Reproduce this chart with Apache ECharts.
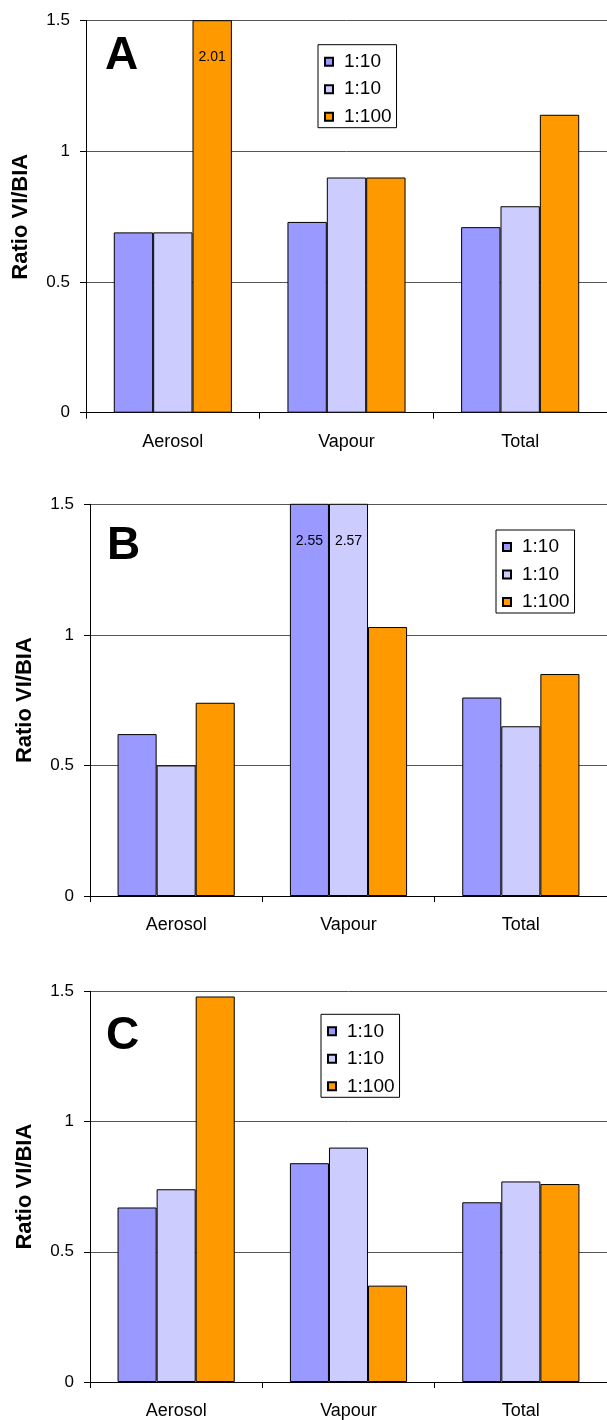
<!DOCTYPE html>
<html>
<head>
<meta charset="utf-8">
<script src="https://cdn.jsdelivr.net/npm/echarts@6/dist/echarts.min.js"></script>
<style>
  html, body { margin: 0; padding: 0; background: #fff; }
  #chart { width: 607px; height: 1420px; }
</style>
</head>
<body>
<div id="chart"></div>
<script>
// data
const categories = ['Aerosol', 'Vapour', 'Total']
const seriesLabels = ['1:10', '1:10', '1:100']
const yTicks = [0, 0.5, 1, 1.5]

const a1 = [0.69, 0.73, 0.71]
const a2 = [0.69, 0.90, 0.79]
const a3 = [2.01, 0.90, 1.14]

const b1 = [0.62, 2.55, 0.76]
const b2 = [0.50, 2.57, 0.65]
const b3 = [0.74, 1.03, 0.85]

const c1 = [0.67, 0.84, 0.69]
const c2 = [0.74, 0.90, 0.77]
const c3 = [1.48, 0.37, 0.76]

const colors = ['#9999FF', '#CCCCFF', '#FF9900']
const font = "'Liberation Sans', Arial, sans-serif"

// panel layout (pixels)
const panels = [
  { letter: 'A', data: [a1, a2, a3], left: 86, top: 20.7, height: 392, legend: [318, 44.7], letterPos: [105, 56.5] },
  { letter: 'B', data: [b1, b2, b3], left: 90, top: 504.3, height: 391.7, legend: [496, 530], letterPos: [107, 546] },
  { letter: 'C', data: [c1, c2, c3], left: 90, top: 991.3, height: 390.7, legend: [321, 1014.3], letterPos: [106, 1036] }
]

const yMin = yTicks[0]
const yMax = yTicks[yTicks.length - 1]
const yStep = yTicks[1] - yTicks[0]

function getOption () {
  let grid = []
  let xAxis = []
  let yAxis = []
  let series = []
  let legend = []
  let graphic = []

  panels.forEach(function (p, i) {
    grid.push({ left: p.left, top: p.top, height: p.height, width: 529 })
    xAxis.push({
      type: 'category',
      gridIndex: i,
      data: categories,
      axisLine: { lineStyle: { color: '#000', width: 1 } },
      axisTick: { show: true, length: 6, lineStyle: { color: '#000' } },
      axisLabel: { color: '#000', fontSize: 18, fontFamily: font, margin: 20 }
    })
    yAxis.push({
      type: 'value',
      gridIndex: i,
      min: yMin,
      max: yMax,
      interval: yStep,
      name: 'Ratio VI/BIA',
      nameLocation: 'middle',
      nameGap: 54,
      nameTextStyle: { color: '#000', fontSize: 22, fontWeight: 'bold', fontFamily: font },
      axisLine: { show: true, lineStyle: { color: '#000', width: 1 } },
      axisTick: { show: true, length: 6, lineStyle: { color: '#000' } },
      axisLabel: { color: '#000', fontSize: 17, fontFamily: font, margin: 16 },
      splitLine: { show: true, lineStyle: { color: '#555', width: 1 } }
    })
    p.data.forEach(function (vals, k) {
      series.push({
        name: 's' + k,
        type: 'bar',
        xAxisIndex: i,
        yAxisIndex: i,
        data: vals,
        barGap: '0%',
        barCategoryGap: '32%',
        clip: true,
        itemStyle: { color: colors[k], borderColor: '#000', borderWidth: 1 },
        label: {
          show: true,
          position: 'insideTop',
          distance: 30,
          color: '#000',
          fontSize: 14,
          fontFamily: font,
          formatter: function (d) { return d.value > yMax ? d.value.toFixed(2) : '' }
        },
        emphasis: { disabled: true }
      })
    })
    legend.push({
      orient: 'vertical',
      left: p.legend[0],
      top: p.legend[1],
      data: ['s0', 's1', 's2'],
      icon: 'rect',
      itemWidth: 8,
      itemHeight: 8,
      itemGap: 7.5,
      padding: [7, 5, 1, 6],
      borderColor: '#000',
      borderWidth: 1,
      backgroundColor: '#fff',
      selectedMode: false,
      formatter: function (name) { return seriesLabels[Number(name.slice(1))] },
      textStyle: { color: '#000', fontSize: 19, fontFamily: font, lineHeight: 20, padding: [0, 0, 0, 6] }
    })
    graphic.push({
      type: 'text',
      x: p.letterPos[0],
      y: p.letterPos[1],
      style: {
        text: p.letter,
        fill: '#000',
        font: "bold 46px 'Liberation Sans', Arial, sans-serif",
        verticalAlign: 'middle'
      }
    })
  })

  return {
    backgroundColor: '#fff',
    animation: false,
    grid: grid,
    xAxis: xAxis,
    yAxis: yAxis,
    legend: legend,
    graphic: graphic,
    series: series
  }
}

let chart = echarts.init(document.getElementById('chart'))
chart.setOption(getOption())
</script>
</body>
</html>
